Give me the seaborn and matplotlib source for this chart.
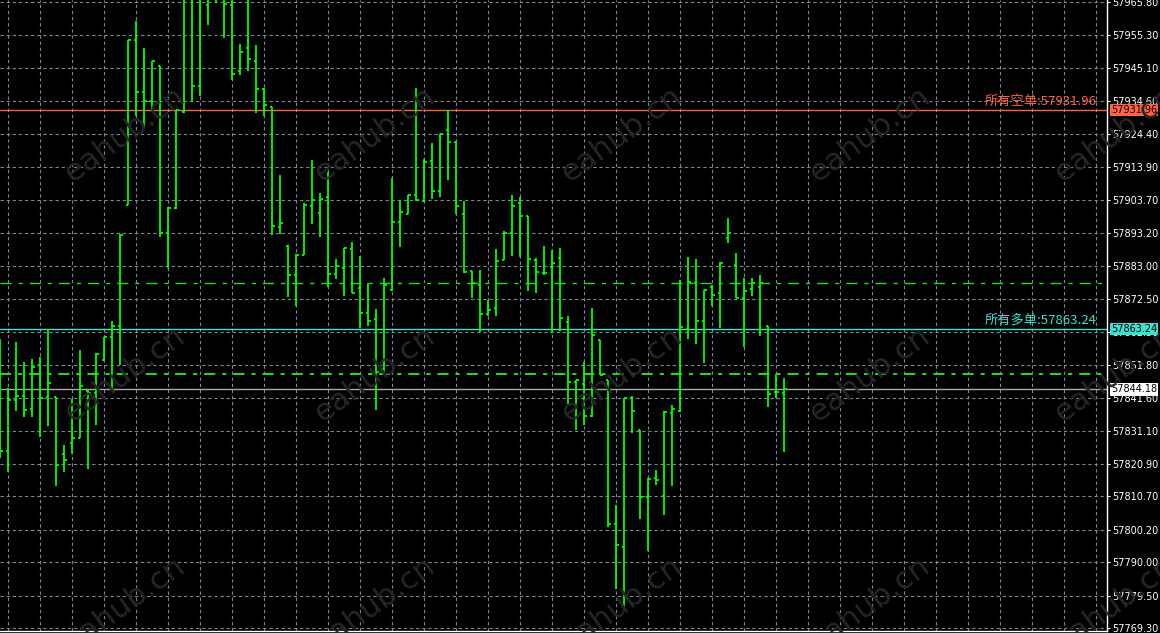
import numpy as np
import pandas as pd
import matplotlib
matplotlib.use("Agg")
import matplotlib.pyplot as plt
import matplotlib.transforms as mtransforms
import seaborn as sns

# OHLC bars, one per slot (bars 23-31 run off the top)
opens = [57842.4, 57824.9, 57840.9, 57842.1, 57838.0, 57851.9, 57841.8, 57841.8, 57823.9, 57827.4,
         57828.9, 57843.7, 57843.1, 57853.4, 57860.6, 57864.1, 57902.1, 57953.9, 57937.6, 57934.7,
         57945.7, 57893.3, 57901.1, 57931.3, 57971.1, 57939.4, 57964.9, 57971.0, 57972.7, 57964.9,
         57944.1, 57951.4, 57947.3, 57938.5, 57932.8, 57895.2, 57889.2, 57880.1, 57886.4, 57901.8,
         57899.6, 57904.6, 57880.4, 57882.3, 57888.3, 57876.0, 57868.2, 57866.3, 57850.6, 57875.4,
         57896.7, 57899.3, 57905.2, 57903.3, 57915.9, 57906.5, 57925.6, 57921.9, 57899.3, 57881.4,
         57877.0, 57867.9, 57869.8, 57884.8, 57893.3, 57902.7, 57898.6, 57884.8, 57880.7, 57882.6,
         57885.4, 57865.4, 57846.5, 57845.9, 57835.9, 57859.7, 57847.2, 57802.0, 57794.7, 57841.5,
         57831.5, 57810.4, 57816.4, 57810.7, 57836.8, 57837.4, 57863.2, 57877.6, 57865.7, 57876.3,
         57874.5, 57891.7, 57883.3, 57872.9, 57875.7, 57876.3, 57864.1, 57843.4, 57843.1]
highs = [57860.0, 57844.6, 57859.1, 57852.8, 57853.7, 57854.4, 57863.2, 57841.8, 57826.7, 57841.2,
         57856.6, 57844.3, 57855.6, 57860.6, 57865.7, 57893.0, 57953.9, 57959.8, 57951.4, 57947.3,
         57945.7, 57901.5, 57931.9, 57975.0, 57976.0, 57978.0, 57980.0, 57985.0, 57978.0, 57972.0,
         57952.6, 57968.5, 57952.3, 57938.8, 57932.8, 57911.5, 57889.5, 57886.7, 57902.7, 57916.2,
         57905.9, 57912.4, 57885.1, 57888.6, 57890.5, 57886.1, 57877.6, 57869.4, 57879.2, 57910.6,
         57903.7, 57905.2, 57938.8, 57916.5, 57921.5, 57924.4, 57931.9, 57921.9, 57903.3, 57881.4,
         57881.7, 57872.3, 57888.3, 57893.9, 57905.2, 57904.6, 57898.6, 57885.4, 57889.2, 57888.0,
         57888.6, 57867.2, 57847.2, 57852.8, 57869.8, 57859.7, 57847.2, 57807.9, 57841.5, 57842.1,
         57831.5, 57816.4, 57818.9, 57837.4, 57839.3, 57878.5, 57885.8, 57885.1, 57875.4, 57877.0,
         57884.2, 57898.0, 57887.0, 57879.2, 57879.2, 57880.1, 57864.1, 57849.0, 57847.8]
lows = [57822.7, 57818.3, 57837.4, 57835.5, 57835.5, 57829.3, 57832.7, 57813.9, 57818.3, 57823.9,
        57828.9, 57819.2, 57833.0, 57853.4, 57844.3, 57851.9, 57902.1, 57930.0, 57926.6, 57931.9,
        57892.0, 57882.3, 57900.8, 57931.0, 57934.4, 57936.3, 57958.6, 57965.5, 57954.5, 57941.3,
        57942.9, 57944.1, 57931.0, 57930.0, 57892.7, 57893.0, 57873.2, 57870.4, 57886.4, 57896.1,
        57892.0, 57876.3, 57878.9, 57873.5, 57874.5, 57863.5, 57864.1, 57837.7, 57848.7, 57875.1,
        57888.9, 57899.3, 57903.3, 57903.0, 57904.0, 57904.6, 57909.9, 57899.3, 57880.7, 57872.9,
        57862.2, 57867.2, 57867.2, 57884.8, 57886.1, 57885.8, 57875.1, 57874.5, 57880.1, 57861.9,
        57862.5, 57839.6, 57831.5, 57833.0, 57835.5, 57848.7, 57801.0, 57781.5, 57775.0, 57830.5,
        57803.5, 57793.5, 57814.2, 57804.8, 57813.9, 57837.1, 57860.0, 57858.4, 57852.5, 57870.4,
        57863.5, 57890.2, 57872.9, 57857.5, 57873.5, 57861.0, 57838.7, 57841.5, 57824.5]
closes = [57824.9, 57840.9, 57842.1, 57837.7, 57851.2, 57841.5, 57846.2, 57820.5, 57822.0, 57828.9,
          57845.3, 57843.1, 57855.3, 57860.6, 57864.1, 57892.7, 57953.9, 57937.6, 57934.7, 57947.3,
          57893.3, 57901.1, 57931.9, 57971.1, 57939.4, 57969.6, 57972.7, 57974.3, 57965.2, 57943.2,
          57950.1, 57947.9, 57938.5, 57933.5, 57895.5, 57896.4, 57880.1, 57886.4, 57902.1, 57903.7,
          57904.0, 57880.4, 57882.9, 57888.6, 57874.5, 57868.2, 57865.7, 57849.7, 57877.0, 57896.7,
          57899.9, 57905.2, 57903.7, 57915.6, 57906.5, 57924.4, 57921.9, 57901.8, 57881.1, 57877.6,
          57867.9, 57869.1, 57884.5, 57893.3, 57901.8, 57898.6, 57885.1, 57881.1, 57880.7, 57883.9,
          57866.6, 57846.5, 57847.2, 57835.9, 57861.3, 57848.7, 57802.0, 57795.4, 57841.5, 57837.4,
          57810.4, 57816.1, 57815.8, 57837.1, 57838.0, 57863.8, 57877.9, 57865.7, 57875.4, 57873.8,
          57883.9, 57893.3, 57872.9, 57875.1, 57877.6, 57877.6, 57842.8, 57843.4, 57844.18]

price_ticks = [57965.80, 57955.30, 57945.10, 57934.60, 57924.40, 57913.90, 57903.70, 57893.20,
               57883.00, 57872.50, 57862.30, 57851.80, 57841.60, 57831.10, 57820.90, 57810.70,
               57800.20, 57790.00, 57779.50, 57769.30]

sell_level = 57931.96
buy_level = 57863.24
bid_level = 57844.18
dash_levels = [57877.6, 57849.0]

df = pd.DataFrame({"open": opens, "high": highs, "low": lows, "close": closes})
df["bar"] = np.arange(len(df))

sns.set_theme(style="dark", rc={"axes.facecolor": "black", "figure.facecolor": "black",
                                "lines.scale_dashes": False})
plt.rcParams["font.family"] = ["DejaVu Sans"]
cjk = ["Noto Sans CJK SC", "DejaVu Sans"]

W, H = 1160, 633
fig = plt.figure(figsize=(W / 100, H / 100), dpi=100)
ax_w, ax_h = 1107, 631
ax = fig.add_axes([0, (H - ax_h) / H, ax_w / W, ax_h / H])
ax.set_facecolor("black")

x0 = -0.06
ax.set_xlim(x0, x0 + ax_w / 8)
ax.set_ylim(57768.36, 57966.43)

# grid
grid_style = dict(color="#778899", lw=0.8, ls=(0, (2.4, 2.0)), zorder=1)
for xv in np.arange(1, 140, 4):
    ax.axvline(xv, **grid_style)
for yv in price_ticks:
    ax.axhline(yv, **grid_style)

# watermark
for cx in [125, 375, 622, 870, 1115]:
    for cy in [135, 375, 605]:
        fig.text(cx / W, 1 - cy / H, "eahub.cn", fontsize=22, color="#262626",
                 rotation=36, ha="center", va="center", zorder=0)

# level lines
for lv, lw in zip(dash_levels, [1.0, 1.4]):
    ax.axhline(lv, color="#1fe01f", lw=lw, ls=(0, (8, 5, 3, 5)), zorder=2)
ax.axhline(sell_level, color="#ff6347", lw=1.0, zorder=2)
ax.axhline(buy_level, color="#40e0d0", lw=1.0, zorder=2)
ax.axhline(bid_level, color="#a9a9a9", lw=1.0, zorder=2)

# OHLC bars
tick = 0.36
ax.vlines(df["bar"], df["low"], df["high"], color="#00ff00", lw=1.3, zorder=3)
ax.hlines(df["open"], df["bar"] - tick, df["bar"], color="#00ff00", lw=1.3, zorder=3)
ax.hlines(df["close"], df["bar"], df["bar"] + tick, color="#00ff00", lw=1.3, zorder=3)

# axis styling
ax.yaxis.tick_right()
ax.set_yticks(price_ticks)
ax.set_yticklabels([f"{v:.2f}" for v in price_ticks])
ax.tick_params(axis="y", colors="white", labelcolor="white", length=2.5, width=0.8,
               labelsize=7, pad=1.5, right=True, left=False)
ax.set_xticks([])
for side in ["left", "top"]:
    ax.spines[side].set_visible(False)
for side in ["right", "bottom"]:
    ax.spines[side].set_visible(True)
    ax.spines[side].set_color("white")
    ax.spines[side].set_linewidth(1.0)

# level texts
ax.text(0.991, sell_level + 0.6, f"所有空单:{sell_level:.2f}", color="#ff6347", fontsize=9.5,
        family=cjk, ha="right", va="bottom", transform=ax.get_yaxis_transform(), zorder=4)
ax.text(0.991, buy_level + 0.6, f"所有多单:{buy_level:.2f}", color="#40e0d0", fontsize=9.5,
        family=cjk, ha="right", va="bottom", transform=ax.get_yaxis_transform(), zorder=4)

# price boxes on the scale
for lv, fc in [(sell_level, "#ff6347"), (buy_level, "#40e0d0"), (bid_level, "white")]:
    ax.text(1.0 + 4 / ax_w, lv, f"{lv:.2f}", color="black", fontsize=7, ha="left", va="center",
            transform=ax.get_yaxis_transform(), clip_on=False, zorder=6,
            bbox=dict(boxstyle="square,pad=0.12", fc=fc, ec="none"))

fig.savefig("out.png", dpi=100, facecolor="black")
